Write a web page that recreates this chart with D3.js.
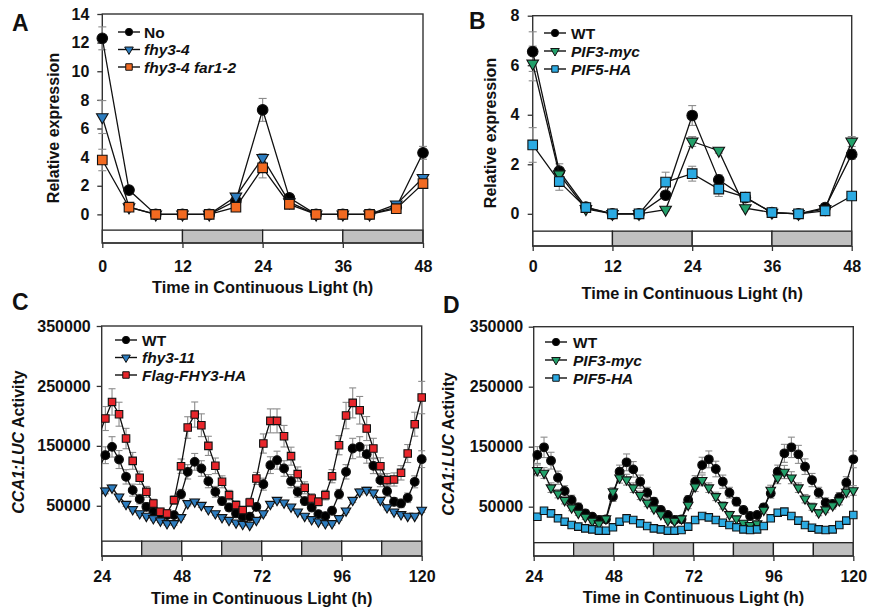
<!DOCTYPE html>
<html>
<head>
<meta charset="utf-8">
<script src="https://cdn.jsdelivr.net/npm/d3@7"></script>
<style>
  body { margin: 0; background: #fff; }
  svg text { font-family: Arial, "Liberation Sans", sans-serif; font-weight: bold; fill: #111; }
</style>
</head>
<body>
<svg id="chart" width="869" height="609"></svg>
<script>
// ---- data ----
// panels A and B: qPCR time course, every 4 h
const hoursAB = [0, 4, 8, 12, 16, 20, 24, 28, 32, 36, 40, 44, 48];

const aNo = [12.3, 1.7, 0, 0, 0, 0.95, 7.3, 1.15, 0, 0, 0, 0.5, 4.3];
const aNoErr = [0.8, 0.15, 0, 0, 0, 0.2, 0.8, 0.15, 0, 0, 0, 0.1, 0.45];
const aFhy = [6.8, 0.5, 0, 0, 0, 1.25, 3.95, 0.85, 0, 0, 0, 0.7, 2.55];
const aFhyErr = [1.15, 0.1, 0, 0, 0, 0.2, 0.3, 0.1, 0, 0, 0, 0.1, 0.2];
const aFar = [3.8, 0.5, 0, 0, 0, 0.5, 3.25, 0.7, 0, 0, 0, 0.4, 2.15];
const aFarErr = [0.75, 0.1, 0, 0, 0, 0.1, 0.7, 0.1, 0, 0, 0, 0.1, 0.2];

const bWT = [6.55, 1.72, 0.27, 0, 0, 0.75, 3.97, 1.37, 0.65, 0.05, 0, 0.25, 2.4];
const bWTErr = [0.8, 0.3, 0.05, 0, 0, 0.1, 0.4, 0.2, 0.1, 0, 0, 0.05, 0.2];
const bPIF3 = [6.07, 1.6, 0.2, 0, 0, 0.17, 2.92, 2.55, 0.23, 0.05, 0, 0.2, 2.92];
const bPIF3Err = [0.7, 0.2, 0.05, 0, 0, 0.05, 0.2, 0.1, 0.05, 0, 0, 0.05, 0.2];
const bPIF5 = [2.78, 1.3, 0.25, 0, 0, 1.28, 1.62, 1.0, 0.67, 0.05, 0, 0.12, 0.72];
const bPIF5Err = [0.7, 0.35, 0.05, 0, 0, 0.4, 0.3, 0.3, 0.15, 0, 0, 0.05, 0.1];

// panels C and D: luciferase imaging, roughly every 2 h (first point falls just before 24 h)
const hoursCD = [23.0, 25.1, 27.1, 29.2, 31.3, 33.3, 35.4, 37.4, 39.5, 41.6, 43.6, 45.7,
  47.8, 49.8, 51.9, 53.9, 56.0, 58.1, 60.1, 62.2, 64.3, 66.3, 68.4, 70.4, 72.5, 74.6,
  76.6, 78.7, 80.8, 82.8, 84.9, 87.0, 89.0, 91.1, 93.1, 95.2, 97.3, 99.3, 101.4, 103.5,
  105.5, 107.6, 109.6, 111.7, 113.8, 115.8, 117.9, 120.0];

const cWT = [110000, 134400, 148300, 127200, 98300, 76100, 61100, 48300, 40000, 37200, 34400, 34400,
  69400, 106700, 123300, 112200, 91100, 73300, 57800, 47200, 37200, 31700, 31700, 48300, 86100,
  117800, 126100, 112200, 91100, 73300, 57800, 47200, 36100, 32800, 41700, 69400, 106700, 145600,
  148300, 136100, 116700, 92800, 74400, 56700, 53900, 63300, 90000, 127800];
const cWTErr = [12000, 14000, 17000, 15000, 12000, 10000, 8000, 7000, 6000, 6000, 5000, 5000,
  8000, 12000, 14000, 13000, 11000, 9000, 7000, 6000, 5000, 5000, 5000, 6000, 10000, 14000,
  15000, 13000, 11000, 9000, 7000, 6000, 5000, 5000, 6000, 8000, 12000, 17000, 17000, 15000,
  13000, 11000, 9000, 7000, 7000, 8000, 10000, 14000];
const cFhy = [65000, 75000, 80000, 65000, 52800, 43900, 37200, 32800, 28900, 25000, 20600, 20600,
  30600, 53900, 56700, 51100, 43900, 37200, 30600, 26100, 21700, 19400, 17800, 26100, 37200,
  52800, 59400, 55000, 48300, 40000, 32800, 27200, 23300, 20600, 20600, 28900, 41700, 59400,
  73300, 76100, 71700, 59400, 47200, 40000, 35600, 32800, 32800, 42800];
const cFhyErr = [4000, 5000, 5000, 4000, 4000, 3000, 3000, 3000, 3000, 3000, 3000, 3000,
  3000, 4000, 4000, 4000, 3000, 3000, 3000, 3000, 3000, 3000, 3000, 3000, 3000, 4000,
  4000, 4000, 3000, 3000, 3000, 3000, 3000, 3000, 3000, 3000, 3000, 4000, 5000, 5000,
  5000, 4000, 4000, 3000, 3000, 3000, 3000, 4000];
const cFlag = [165000, 195600, 223300, 202800, 162200, 125000, 96700, 73300, 53900, 40000, 37200, 59400,
  116100, 180600, 202200, 184400, 150000, 116700, 90000, 67800, 51100, 42800, 55600, 95600, 153900,
  191700, 191700, 166100, 132800, 102800, 80000, 62200, 56700, 67800, 99400, 151100, 200600, 221700,
  209400, 178900, 145600, 116100, 92800, 93900, 105000, 137200, 186100, 230600];
const cFlagErr = [18000, 20000, 22000, 20000, 17000, 14000, 11000, 9000, 7000, 6000, 6000, 7000,
  12000, 18000, 21000, 19000, 16000, 13000, 10000, 8000, 7000, 6000, 7000, 10000, 16000, 20000,
  20000, 18000, 15000, 12000, 10000, 8000, 7000, 8000, 11000, 16000, 22000, 25000, 23000, 20000,
  17000, 14000, 11000, 11000, 12000, 15000, 20000, 27000];

const dWT = [115000, 136100, 148900, 126700, 98300, 76100, 61100, 48900, 38900, 33300, 27800, 28900,
  66700, 108300, 123900, 112200, 91700, 73300, 58300, 44400, 36100, 27800, 28900, 61100, 91700,
  119400, 128900, 112800, 91700, 73300, 58300, 44400, 34400, 36100, 48900, 72200, 108300, 138900,
  148900, 137200, 116700, 94400, 73300, 56700, 54400, 65600, 90000, 128900];
const dWTErr = [12000, 14000, 17000, 14000, 11000, 9000, 8000, 7000, 6000, 5000, 5000, 5000,
  8000, 11000, 14000, 13000, 11000, 9000, 7000, 6000, 5000, 5000, 5000, 7000, 10000, 13000,
  14000, 13000, 11000, 9000, 7000, 6000, 5000, 5000, 6000, 8000, 11000, 15000, 17000, 15000,
  13000, 11000, 9000, 8000, 7000, 8000, 10000, 14000];
const dPIF3 = [95000, 110600, 106100, 81700, 71700, 60600, 48300, 39400, 32800, 26100, 21700, 30000,
  75000, 98300, 95000, 81700, 68900, 56100, 46700, 37200, 27200, 26100, 30000, 52800, 83300,
  93900, 81700, 67200, 52200, 37200, 30000, 22800, 18900, 21700, 44400, 77800, 98300, 107800,
  98300, 81700, 63300, 50000, 40000, 45000, 52000, 60000, 74400, 77000];
const dPIF3Err = [8000, 9000, 9000, 8000, 7000, 6000, 5000, 4000, 4000, 3000, 3000, 4000,
  7000, 9000, 9000, 8000, 7000, 6000, 5000, 4000, 3000, 3000, 4000, 6000, 8000, 9000,
  8000, 7000, 6000, 5000, 4000, 3000, 3000, 3000, 5000, 8000, 10000, 11000, 10000, 8000,
  7000, 6000, 5000, 5000, 6000, 7000, 8000, 8000];
const dPIF5 = [28000, 33300, 43300, 38900, 30600, 25000, 19400, 16700, 13900, 12200, 10000, 10000,
  15600, 25000, 30600, 27800, 22200, 17800, 13900, 12200, 10000, 10000, 11100, 16700, 27800,
  34400, 32200, 27800, 23300, 19400, 15600, 12200, 11100, 12200, 17800, 30600, 40000, 41700,
  34400, 26700, 19400, 15000, 12200, 11100, 12200, 19400, 26700, 36100];
const dPIF5Err = [2500, 3000, 3500, 3000, 2500, 2000, 2000, 1500, 1500, 1500, 1500, 1500,
  2000, 2500, 3000, 2500, 2000, 2000, 1500, 1500, 1500, 1500, 1500, 2000, 2500, 3000,
  3000, 2500, 2000, 2000, 1500, 1500, 1500, 1500, 2000, 3000, 3500, 3500, 3000, 2500,
  2000, 1500, 1500, 1500, 1500, 2000, 2500, 3000];

// light (false) / dark (true) intervals under each plot
const cycleAB = [[0, 12, false], [12, 24, true], [24, 36, false], [36, 48, true]];
const cycleCD = [[24, 36, false], [36, 48, true], [48, 60, false], [60, 72, true],
  [72, 84, false], [84, 96, true], [96, 108, false], [108, 120, true]];

const ticksA = [0, 2, 4, 6, 8, 10, 12, 14];
const ticksB = [0, 2, 4, 6, 8];
const ticksCD = [50000, 150000, 250000, 350000];
const xTicksAB = [0, 12, 24, 36, 48];
const xTicksCD = [24, 48, 72, 96, 120];

// ---- colours ----
const BLUE = "#2d7dbf", ORANGE = "#f26a21", GREEN = "#22a06a", CYAN = "#2baae2", RED = "#e8262b";

const svg = d3.select("#chart");

function markerPath(shape, size) {
  const t = shape === "circle" ? d3.symbolCircle : shape === "square" ? d3.symbolSquare : d3.symbolTriangle;
  return d3.symbol().type(t).size(size)();
}

function drawPanel(p) {
  const x = d3.scaleLinear().domain(p.xDomain).range([p.x0, p.x1]);
  const y = d3.scaleLinear().domain(p.yDomain).range([p.y1, p.y0]);
  const g = svg.append("g");

  g.append("clipPath").attr("id", "clip" + p.letter)
    .append("rect")
    .attr("x", p.x0).attr("y", p.y0)
    .attr("width", p.x1 - p.x0).attr("height", p.y1 - p.y0);

  // light/dark bar
  g.selectAll("rect.cycle").data(p.cycle).join("rect")
    .attr("class", "cycle")
    .attr("x", d => x(d[0]))
    .attr("width", d => x(d[1]) - x(d[0]))
    .attr("y", y(p.barTop))
    .attr("height", y(p.yDomain[0]) - y(p.barTop))
    .attr("fill", d => d[2] ? "#c0c0c0" : "#fff")
    .attr("stroke", "#222")
    .attr("stroke-width", 1.3);

  // frame
  g.append("rect")
    .attr("x", p.x0).attr("y", p.y0)
    .attr("width", p.x1 - p.x0).attr("height", p.y1 - p.y0)
    .attr("fill", "none").attr("stroke", "#333").attr("stroke-width", 1.4);

  // axes
  const yAx = g.append("g")
    .attr("transform", `translate(${p.x0},0)`)
    .call(d3.axisLeft(y).tickValues(p.yTicks).tickSize(5).tickPadding(p.yPad).tickFormat(d3.format("d")));
  const xAx = g.append("g")
    .attr("transform", `translate(0,${p.y1})`)
    .call(d3.axisBottom(x).tickValues(p.xTicks).tickSize(5).tickPadding(p.xPad).tickFormat(d3.format("d")));
  [yAx, xAx].forEach(a => {
    a.select(".domain").remove();
    a.selectAll(".tick line").attr("stroke", "#333").attr("stroke-width", 1.3);
    a.selectAll(".tick text").style("font-size", "16px").attr("fill", "#111");
  });

  // error bars
  const cap = p.cap;
  p.series.forEach(s => {
    const pts = p.hours.map((h, i) => ({h, v: s.values[i], e: s.errors[i]}))
      .filter(d => d.h >= p.xDomain[0] && d.e > 0);
    const eg = g.append("g").attr("stroke", "#8c8c8c").attr("stroke-width", 1.1);
    pts.forEach(d => {
      eg.append("line").attr("x1", x(d.h)).attr("x2", x(d.h))
        .attr("y1", y(d.v - d.e)).attr("y2", y(d.v + d.e));
      eg.append("line").attr("x1", x(d.h) - cap).attr("x2", x(d.h) + cap)
        .attr("y1", y(d.v + d.e)).attr("y2", y(d.v + d.e));
      eg.append("line").attr("x1", x(d.h) - cap).attr("x2", x(d.h) + cap)
        .attr("y1", y(d.v - d.e)).attr("y2", y(d.v - d.e));
    });
  });

  // lines and markers, series after series
  const line = d3.line().x(d => x(d.h)).y(d => y(d.v));
  p.series.forEach(s => {
    const pts = p.hours.map((h, i) => ({h, v: s.values[i]}));
    g.append("path").datum(pts)
      .attr("clip-path", `url(#clip${p.letter})`)
      .attr("d", line)
      .attr("fill", "none").attr("stroke", "#111").attr("stroke-width", 1.3);
    g.selectAll(null).data(pts.filter(d => d.h >= p.xDomain[0])).join("path")
      .attr("d", markerPath(s.shape, p.msize[s.shape]))
      .attr("transform", d => `translate(${x(d.h)},${y(d.v)})` + (s.shape === "triangle" ? " rotate(180)" : ""))
      .attr("fill", s.color).attr("stroke", "#111").attr("stroke-width", 1.1);
  });

  // legend
  p.series.forEach((s, i) => {
    const ly = p.legend.y + i * p.legend.dy;
    g.append("line").attr("x1", p.legend.x - 11).attr("x2", p.legend.x + 11)
      .attr("y1", ly).attr("y2", ly).attr("stroke", "#111").attr("stroke-width", 1.4);
    g.append("path")
      .attr("d", markerPath(s.shape, p.lsize[s.shape]))
      .attr("transform", `translate(${p.legend.x},${ly})` + (s.shape === "triangle" ? " rotate(180)" : ""))
      .attr("fill", s.color).attr("stroke", "#111").attr("stroke-width", 1);
    g.append("text")
      .attr("x", p.legend.x + p.legend.tx).attr("y", ly + 5.6)
      .style("font-size", "15.5px")
      .style("font-style", s.italic ? "italic" : "normal")
      .text(s.name);
  });

  // panel letter
  g.append("text").attr("x", p.letterPos[0]).attr("y", p.letterPos[1])
    .style("font-size", "23px").text(p.letter);

  // axis titles
  g.append("text")
    .attr("x", (p.x0 + p.x1) / 2).attr("y", p.xTitleY)
    .attr("text-anchor", "middle").style("font-size", "16.3px")
    .text("Time in Continuous Light (h)");
  const yt = g.append("text")
    .attr("transform", `translate(${p.yTitle[0]},${p.yTitle[1]}) rotate(-90)`)
    .attr("text-anchor", "middle").style("font-size", "16px");
  p.yTitleParts.forEach(part => yt.append("tspan").style("font-style", part[1] ? "italic" : "normal").text(part[0]));
}

const sizeAB = {circle: 88, square: 92, triangle: 58};
const sizeCD = {circle: 60, square: 56, triangle: 40};
const sizeLeg = {circle: 42, square: 42, triangle: 32};

drawPanel({
  letter: "A", letterPos: [12, 31],
  x0: 102.3, x1: 423, y0: 14, y1: 243,
  xDomain: [0, 48], yDomain: [-2, 14], barTop: -1.1,
  yTicks: ticksA, xTicks: xTicksAB, yPad: 8, xPad: 13, cap: 4,
  cycle: cycleAB, hours: hoursAB, msize: sizeAB, lsize: sizeLeg,
  series: [
    {name: "No", italic: false, values: aNo, errors: aNoErr, shape: "circle", color: "#000"},
    {name: "fhy3-4", italic: true, values: aFhy, errors: aFhyErr, shape: "triangle", color: BLUE},
    {name: "fhy3-4 far1-2", italic: true, values: aFar, errors: aFarErr, shape: "square", color: ORANGE}
  ],
  legend: {x: 129, y: 32, dy: 17.5, tx: 15},
  xTitleY: 292.8, yTitle: [58.5, 128], yTitleParts: [["Relative expression", false]]
});

drawPanel({
  letter: "B", letterPos: [469, 28.5],
  x0: 532.7, x1: 851.7, y0: 15.7, y1: 246,
  xDomain: [0, 48], yDomain: [-1.3, 8], barTop: -0.7,
  yTicks: ticksB, xTicks: xTicksAB, yPad: 8.4, xPad: 9.5, cap: 4,
  cycle: cycleAB, hours: hoursAB, msize: sizeAB, lsize: sizeLeg,
  series: [
    {name: "WT", italic: false, values: bWT, errors: bWTErr, shape: "circle", color: "#000"},
    {name: "PIF3-myc", italic: true, values: bPIF3, errors: bPIF3Err, shape: "triangle", color: GREEN},
    {name: "PIF5-HA", italic: true, values: bPIF5, errors: bPIF5Err, shape: "square", color: CYAN}
  ],
  legend: {x: 555, y: 33, dy: 18, tx: 16},
  xTitleY: 299, yTitle: [495.5, 133], yTitleParts: [["Relative expression", false]]
});

drawPanel({
  letter: "C", letterPos: [12, 310],
  x0: 101.7, x1: 421.7, y0: 326, y1: 556,
  xDomain: [24, 120], yDomain: [-33800, 350000], barTop: -9000,
  yTicks: ticksCD, xTicks: xTicksCD, yPad: 6, xPad: 10, cap: 3.5,
  cycle: cycleCD, hours: hoursCD, msize: sizeCD, lsize: sizeLeg,
  series: [
    {name: "WT", italic: false, values: cWT, errors: cWTErr, shape: "circle", color: "#000"},
    {name: "fhy3-11", italic: true, values: cFhy, errors: cFhyErr, shape: "triangle", color: BLUE},
    {name: "Flag-FHY3-HA", italic: true, values: cFlag, errors: cFlagErr, shape: "square", color: RED}
  ],
  legend: {x: 126, y: 340, dy: 17.5, tx: 16},
  xTitleY: 603.5, yTitle: [24, 442], yTitleParts: [["CCA1:LUC", true], [" Activity", false]]
});

drawPanel({
  letter: "D", letterPos: [443, 313],
  x0: 533.7, x1: 853.3, y0: 326.7, y1: 556,
  xDomain: [24, 120], yDomain: [-32200, 350000], barTop: -10000,
  yTicks: ticksCD, xTicks: xTicksCD, yPad: 5.5, xPad: 10, cap: 3.5,
  cycle: cycleCD, hours: hoursCD, msize: sizeCD, lsize: sizeLeg,
  series: [
    {name: "WT", italic: false, values: dWT, errors: dWTErr, shape: "circle", color: "#000"},
    {name: "PIF3-myc", italic: true, values: dPIF3, errors: dPIF3Err, shape: "triangle", color: GREEN},
    {name: "PIF5-HA", italic: true, values: dPIF5, errors: dPIF5Err, shape: "square", color: CYAN}
  ],
  legend: {x: 556, y: 342, dy: 18, tx: 17},
  xTitleY: 602.5, yTitle: [454, 444], yTitleParts: [["CCA1:LUC", true], [" Activity", false]]
});
</script>
</body>
</html>
